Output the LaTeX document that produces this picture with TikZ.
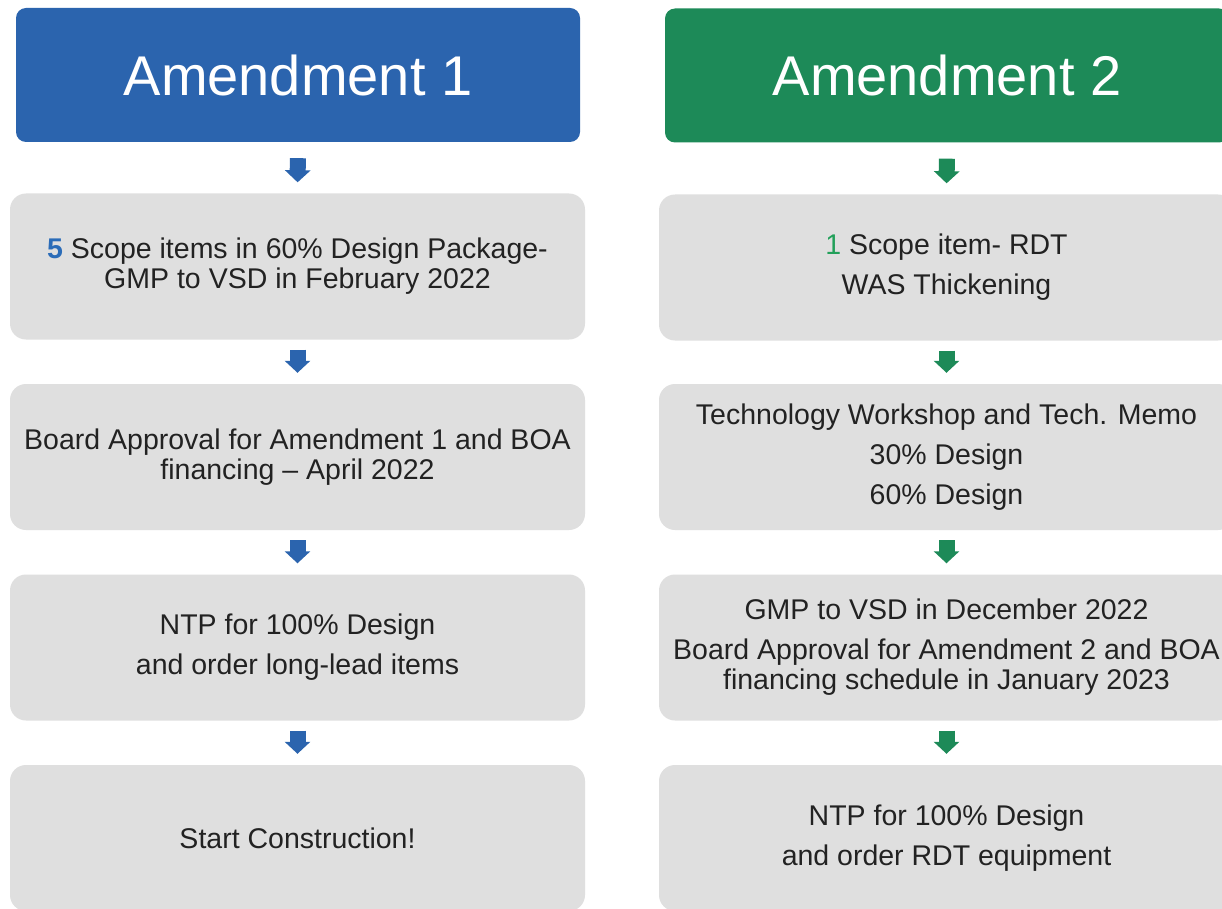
\documentclass[tikz,border=0pt]{standalone}
\usepackage{fontspec}
\setmainfont{Liberation Sans}
\usetikzlibrary{arrows.meta}
\definecolor{hblue}{HTML}{2B64AE}
\definecolor{hgreen}{HTML}{1D8A58}
\definecolor{boxgrey}{HTML}{DFDFDF}
\definecolor{txt}{HTML}{222222}
\definecolor{numblue}{HTML}{2B6CB8}
\definecolor{numgreen}{HTML}{22A05A}
\begin{document}
\begin{tikzpicture}[x=1pt,y=-1pt,
 header/.style={rounded corners=10pt, minimum width=564pt, minimum height=134pt, text=white, font=\fontsize{56}{60}\selectfont, inner sep=0pt},
 stepbox/.style={fill=boxgrey, rounded corners=16pt, minimum width=575pt, minimum height=146pt, text=txt, font=\fontsize{28.5}{30}\selectfont, align=center, inner sep=0pt},
 flow/.style={line width=16pt, -{Triangle[width=25pt,length=12pt]}, shorten <=10pt, shorten >=11pt},
 topflow/.style={flow, shorten <=16pt}
]
\useasboundingbox (0,0) rectangle (1222,909);
\clip (0,0) rectangle (1222,909);
\fill[white] (0,0) rectangle (1222,909);

% Left column
\node[header, fill=hblue] (h1) at (298,75) {Amendment 1};
\node[stepbox] (a1) at (297.5,266.5) {{\color{numblue}\textbf{5}} Scope items in 60\% Design Package-\\GMP to VSD in February 2022};
\node[stepbox] (a2) at (297.5,457) {Board Approval for Amendment 1 and BOA\\financing -- April 2022};
\node[stepbox] (a3) at (297.5,647.5) {NTP for 100\% Design\\[10pt]and order long-lead items};
\node[stepbox] (a4) at (297.5,838) {Start Construction!};

\draw[topflow, hblue] (h1.south) -- (a1.north);
\draw[flow, hblue] (a1.south) -- (a2.north);
\draw[flow, hblue] (a2.south) -- (a3.north);
\draw[flow, hblue] (a3.south) -- (a4.north);

% Right column
\node[header, fill=hgreen] (h2) at (947,75.5) {Amendment 2};
\node[stepbox] (b1) at (946.5,267.5) {{\color{numgreen}1} Scope item- RDT\\[10pt]WAS Thickening};
\node[stepbox] (b2) at (946.5,457) {Technology Workshop and Tech. Memo\\[10pt]30\% Design\\[10pt]60\% Design};
\node[stepbox] (b3) at (946.5,647.5) {GMP to VSD in December 2022\\[10pt]Board Approval for Amendment 2 and BOA\\financing schedule in January 2023};
\node[stepbox] (b4) at (946.5,838) {NTP for 100\% Design\\[10pt]and order RDT equipment};

\draw[topflow, hgreen] (h2.south) -- (b1.north);
\draw[flow, hgreen] (b1.south) -- (b2.north);
\draw[flow, hgreen] (b2.south) -- (b3.north);
\draw[flow, hgreen] (b3.south) -- (b4.north);
\end{tikzpicture}
\end{document}
